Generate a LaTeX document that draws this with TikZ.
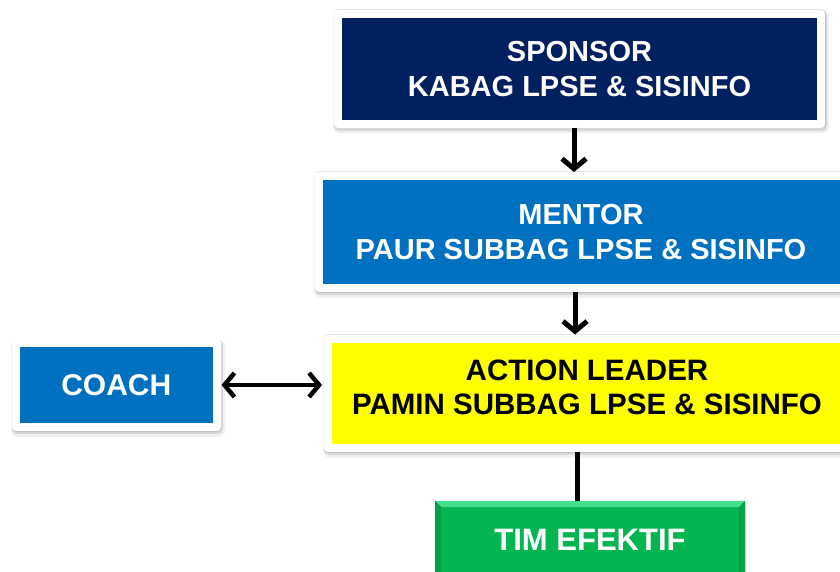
\documentclass[tikz,border=0pt]{standalone}
\usepackage{fontspec}
\setmainfont{Liberation Sans}
\usetikzlibrary{shadows,arrows.meta}
\definecolor{navy}{HTML}{002060}
\definecolor{mblue}{HTML}{0070C0}
\definecolor{yel}{HTML}{FFFF00}
\definecolor{grn}{HTML}{05B552}
\definecolor{grnlight}{HTML}{45E08E}
\definecolor{grndark}{HTML}{02A246}
\begin{document}
\begin{tikzpicture}[x=1pt,y=-1pt,
  framed/.style={draw=white, line width=8pt, line join=round, rectangle, inner sep=0pt,
    preaction={draw=black, draw opacity=0.06, line width=13pt, line join=round, transform canvas={shift={(1.5pt,-3pt)}}},
    preaction={draw=black, draw opacity=0.10, line width=10pt, line join=round, transform canvas={shift={(1pt,-2pt)}}},
    preaction={draw=black, draw opacity=0.10, line width=9pt, line join=round}},
  btxt/.style={font=\bfseries\fontsize{29}{35}\selectfont, align=center, text=white, inner sep=0pt},
  darr/.style={line width=5pt, -{Straight Barb[length=10pt,width=24pt,line width=5pt]}},
  barr/.style={line width=4.5pt, {Straight Barb[length=10pt,width=24pt,line width=4.5pt]}-{Straight Barb[length=10pt,width=24pt,line width=4.5pt]}},
  plain/.style={line width=5pt}
]
\clip (0,0) rectangle (840,572);
\fill[white] (0,0) rectangle (840,572);

\node[framed, fill=navy, minimum width=483pt, minimum height=110pt, btxt] (sponsor) at (579.5,69)
  {SPONSOR\\KABAG LPSE \& SISINFO};

\node[framed, fill=mblue, minimum width=531pt, minimum height=112pt] (mentor) at (584.5,232) {};
\node[btxt] (mentortxt) at (581,232) {MENTOR\\PAUR SUBBAG LPSE \& SISINFO};

\node[framed, fill=yel, minimum width=522pt, minimum height=109.5pt] (action) at (589,393.25) {};
\node[btxt, text=black, font=\bfseries\fontsize{29.5}{34}\selectfont] (actiontxt) at (587,387) {ACTION LEADER\\PAMIN SUBBAG LPSE \& SISINFO};

\node[framed, fill=mblue, minimum width=200.5pt, minimum height=84pt, btxt, font=\bfseries\fontsize{30}{36}\selectfont] (coach) at (116.25,385) {COACH};

\node[rectangle, fill=grn, minimum width=310pt, minimum height=78pt, inner sep=0pt,
  drop shadow={opacity=0.25, shadow xshift=1pt, shadow yshift=-2pt},
  path picture={
    \fill[grnlight] (path picture bounding box.north west) -- (path picture bounding box.north east)
      -- ([xshift=-6pt,yshift=-6pt]path picture bounding box.north east)
      -- ([xshift=6pt,yshift=-6pt]path picture bounding box.north west) -- cycle;
    \fill[grndark] (path picture bounding box.north west) -- ([xshift=6pt,yshift=-6pt]path picture bounding box.north west)
      -- ([xshift=6pt]path picture bounding box.south west) -- (path picture bounding box.south west) -- cycle;
    \fill[grndark] (path picture bounding box.north east) -- ([xshift=-6pt,yshift=-6pt]path picture bounding box.north east)
      -- ([xshift=-6pt]path picture bounding box.south east) -- (path picture bounding box.south east) -- cycle;
  },
  btxt, font=\bfseries\fontsize{31}{36}\selectfont] (tim) at (590,540) {TIM EFEKTIF};

\coordinate (x1) at (574,0);
\coordinate (x2) at (575,0);
\coordinate (x3) at (577,0);
\draw[darr] (sponsor.south -| x1) -- (mentor.north -| x1);
\draw[darr] (mentor.south -| x2) -- (action.north -| x2);
\draw[barr] ([xshift=1pt]coach.east) -- ([xshift=-2pt]coach.east -| action.west);
\draw[plain] (action.south -| x3) -- (tim.north -| x3);
\end{tikzpicture}
\end{document}
